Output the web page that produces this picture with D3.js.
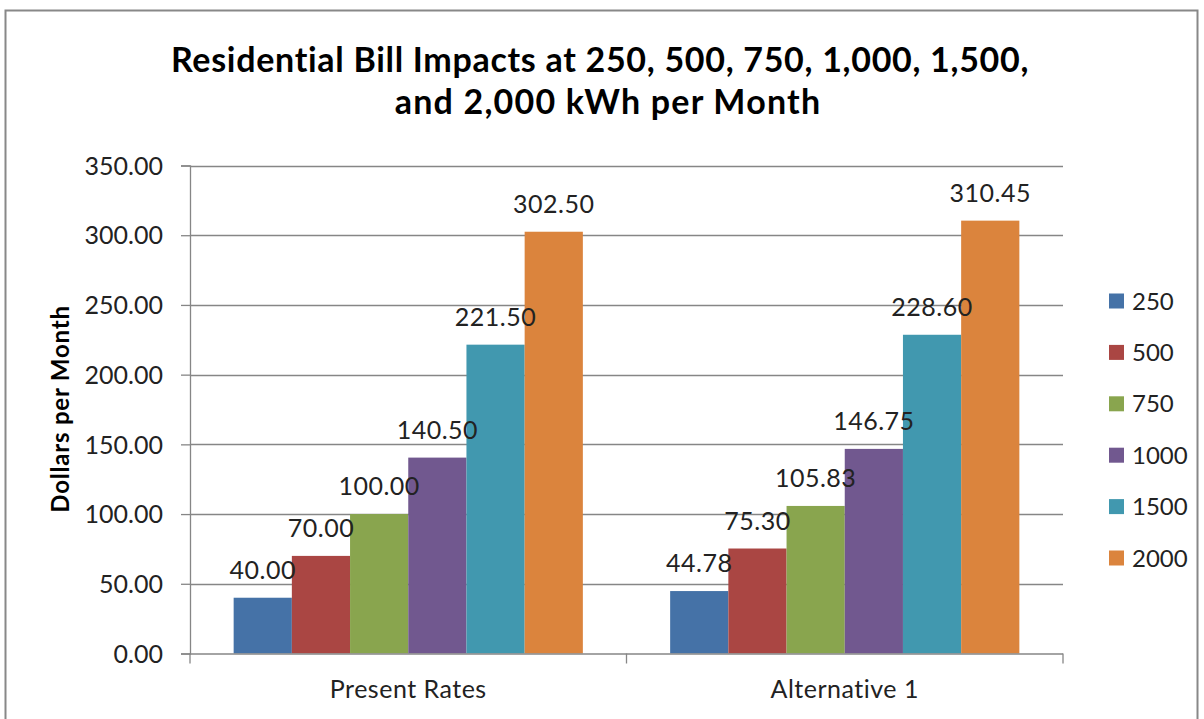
<!DOCTYPE html>
<html>
<head>
<meta charset="utf-8">
<script src="https://cdn.jsdelivr.net/npm/d3@7"></script>
<style>
  body { margin: 0; background: #fff; }
  svg { display: block; font-family: Lato, "Open Sans", sans-serif; }
</style>
</head>
<body>
<svg id="chart" width="1204" height="719"></svg>
<script>
// chart data
var categories = ["Present Rates", "Alternative 1"],
    seriesNames = ["250", "500", "750", "1000", "1500", "2000"],
    seriesColors = ["#4572A7", "#AA4643", "#89A54E", "#71588F", "#4198AF", "#DB843D"],
    presentRates = [40.00, 70.00, 100.00, 140.50, 221.50, 302.50],
    alternative1 = [44.78, 75.30, 105.83, 146.75, 228.60, 310.45],
    yTicks = [0, 50, 100, 150, 200, 250, 300, 350];

var titleLines = ["Residential Bill Impacts at 250, 500, 750, 1,000, 1,500,",
                  "and 2,000 kWh per Month"];

var values = [presentRates, alternative1];

var svg = d3.select("#chart"),
    gridColor = "#868686",
    plotLeft = 190,
    plotRight = 1063,
    plotTop = 165.5,
    plotBottom = 653.5;

// outer chart border
svg.append("rect")
    .attr("x", 5.5).attr("y", 10.5)
    .attr("width", 1192).attr("height", 720)
    .attr("fill", "none")
    .attr("stroke", "#888")
    .attr("stroke-width", 2);

// title (second line sits a bit right, as in the wrapped original)
svg.append("g").selectAll("text")
    .data(titleLines)
    .join("text")
    .attr("x", (d, i) => i === 0 ? 600 : 608)
    .attr("y", (d, i) => 72 + i * 42)
    .attr("text-anchor", "middle")
    .attr("font-size", "34px")
    .attr("letter-spacing", (d, i) => i === 0 ? "0.7px" : "1.2px")
    .attr("font-weight", "bold")
    .attr("fill", "#000")
    .text(d => d);

var x0 = d3.scaleBand()
    .domain(categories)
    .range([plotLeft, plotRight]);

var x1 = d3.scaleBand()
    .domain(seriesNames)
    .range([0, x0.bandwidth()])
    .paddingInner(0)
    .paddingOuter(0.75);

var y = d3.scaleLinear()
    .domain([0, 350])
    .range([plotBottom, plotTop]);

// gridlines
svg.append("g").selectAll("line")
    .data(yTicks.filter(d => d > 0))
    .join("line")
    .attr("x1", plotLeft).attr("x2", plotRight)
    .attr("y1", d => Math.round(y(d)) + 0.5)
    .attr("y2", d => Math.round(y(d)) + 0.5)
    .attr("stroke", gridColor)
    .attr("stroke-width", 1.3);

// y axis
var yAxis = svg.append("g")
    .attr("transform", "translate(" + plotLeft + ",0)")
    .call(d3.axisLeft(y).tickValues(yTicks).tickFormat(d3.format(".2f")).tickSizeOuter(0).tickSize(9).tickPadding(18));
yAxis.select(".domain").attr("stroke", gridColor).attr("stroke-width", 1.3);
yAxis.selectAll(".tick line").attr("stroke", gridColor).attr("stroke-width", 1.3);
yAxis.selectAll(".tick text")
    .attr("font-family", "Lato, sans-serif")
    .attr("font-size", "25px")
    .attr("fill", "#222")
    .attr("dy", "0.35em");

// y axis title
svg.append("text")
    .attr("transform", "translate(69,409) rotate(-90)")
    .attr("text-anchor", "middle")
    .attr("font-size", "24px")
    .attr("letter-spacing", "0.8px")
    .attr("font-weight", "bold")
    .attr("fill", "#000")
    .text("Dollars per Month");

// bars
var groups = svg.append("g").selectAll("g")
    .data(categories)
    .join("g")
    .attr("transform", d => "translate(" + x0(d) + ",0)");

groups.selectAll("rect")
    .data((d, i) => values[i].map((v, j) => ({ key: seriesNames[j], value: v, color: seriesColors[j] })))
    .join("rect")
    .attr("x", d => x1(d.key))
    .attr("y", d => y(d.value))
    .attr("width", x1.bandwidth())
    .attr("height", d => y(0) - y(d.value))
    .attr("fill", d => d.color);

// data labels
groups.selectAll("text")
    .data((d, i) => values[i].map((v, j) => ({ key: seriesNames[j], value: v })))
    .join("text")
    .attr("x", d => x1(d.key) + x1.bandwidth() / 2)
    .attr("y", d => y(d.value) - 19)
    .attr("text-anchor", "middle")
    .attr("font-size", "25px")
    .attr("letter-spacing", "0.5px")
    .attr("fill", "#222")
    .text(d => d3.format(".2f")(d.value));

// x axis
var xAxis = svg.append("g")
    .attr("transform", "translate(0," + plotBottom + ")");
xAxis.append("line")
    .attr("x1", plotLeft).attr("x2", plotRight)
    .attr("y1", 0.5).attr("y2", 0.5)
    .attr("stroke", gridColor).attr("stroke-width", 1.3);
xAxis.selectAll("line.tick")
    .data([plotLeft, plotLeft + x0.bandwidth(), plotRight])
    .join("line")
    .attr("class", "tick")
    .attr("x1", d => d).attr("x2", d => d)
    .attr("y1", 0).attr("y2", 10)
    .attr("stroke", gridColor).attr("stroke-width", 1.3);
xAxis.selectAll("text")
    .data(categories)
    .join("text")
    .attr("x", d => x0(d) + x0.bandwidth() / 2)
    .attr("y", 44)
    .attr("text-anchor", "middle")
    .attr("font-size", "25px")
    .attr("letter-spacing", "0.5px")
    .attr("fill", "#222")
    .text(d => d);

// legend
var legend = svg.append("g").selectAll("g")
    .data(seriesNames)
    .join("g")
    .attr("transform", (d, i) => "translate(1109," + (301 + i * 51.4) + ")");

legend.append("rect")
    .attr("x", 0).attr("y", -7.5)
    .attr("width", 15).attr("height", 15)
    .attr("fill", (d, i) => seriesColors[i]);

legend.append("text")
    .attr("x", 23)
    .attr("dy", "0.36em")
    .attr("font-size", "24px")
    .attr("fill", "#222")
    .text(d => d);
</script>
</body>
</html>
